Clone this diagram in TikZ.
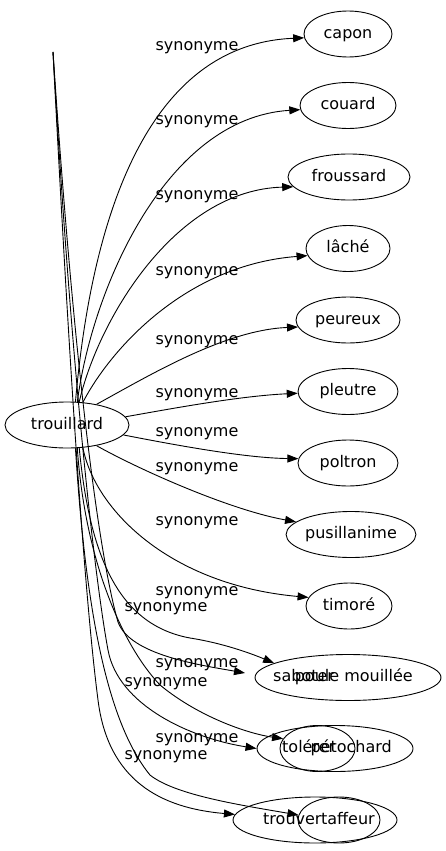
\documentclass[tikz,border=0pt]{standalone}
\usepackage{fontspec}
\setmainfont{DejaVu Sans}
\usetikzlibrary{shapes.geometric,arrows.meta}
\begin{document}
\begin{tikzpicture}[x=1pt,y=-1pt,
  every node/.style={font=\fontsize{16}{19}\selectfont},
  ell/.style={draw, ellipse, inner sep=0pt, minimum height=46pt, line width=0.9pt, text height=12pt, text depth=3.5pt},
  word/.style={inner sep=0pt},
  lbl/.style={inner sep=0pt, anchor=base},
  conn/.style={line width=0.9pt, -{Triangle[length=11pt,width=8pt]}}]
\useasboundingbox (0,0) rectangle (446,851);
% nodes
\node[ell, minimum width=124pt] (t) at (67,425) {trouillard};
\node[ell, minimum width=88pt] (capon) at (348,34) {capon};
\node[ell, minimum width=96pt] (couard) at (348,105.5) {couard};
\node[ell, minimum width=122pt] (frou) at (349,177) {froussard};
\node[ell, minimum width=84pt] (lache) at (348,248.5) {lâché};
\node[ell, minimum width=104pt] (peur) at (348,320) {peureux};
\node[ell, minimum width=100pt] (pleu) at (348,391.5) {pleutre};
\node[ell, minimum width=100pt] (polt) at (348,463) {poltron};
\node[ell, minimum width=120pt] (pus) at (351,534.5) {pusillanime};
\node[ell, minimum width=86pt] (tim) at (349,606) {timoré};
% overlapping rows
\node[ell, minimum width=186pt] (r1) at (348,677.5) {};
\node[word, anchor=base west] (r1a) at (273,681.8) {saboter};
\node[word, anchor=base east] (r1b) at (413,681.8) {poule mouillée};
\node[ell, minimum width=156pt] (r2) at (335,748.5) {};
\node[ell, minimum width=75pt] (r2s) at (317.5,748.5) {};
\node[word, anchor=base west] (r2a) at (282,752.8) {tolérer};
\node[word, anchor=base east] (r2b) at (392,752.8) {pétochard};
\node[ell, minimum width=164pt] (r3) at (315,820) {};
\node[ell, minimum width=82pt] (r3s) at (339,820) {};
\node[word, anchor=base west] (r3a) at (263,824.3) {trouver};
\node[word, anchor=base east] (r3b) at (375,824.3) {taffeur};
\coordinate (top) at (53,52);
\coordinate (b1end) at (245,673);
% edges from trouillard
\draw[conn] (t.70) .. controls (88,260) and (130,45) .. (capon.185);
\draw[conn] (t.66) .. controls (92,290) and (165,118) .. (couard.185);
\draw[conn] (t.62) .. controls (98,320) and (175,190) .. (frou.190);
\draw[conn] (t.55) .. controls (110,350) and (185,265) .. (lache.190);
\draw[conn] (t.35) .. controls (150,375) and (225,330) .. (peur.188);
\draw[conn] (t.8) .. controls (175,408) and (240,396) .. (pleu.182);
\draw[conn] (t.-10) .. controls (175,445) and (245,458) .. (polt.175);
\draw[conn] (t.-35) .. controls (140,470) and (230,510) .. (pus.167);
\draw[conn] (t.-55) .. controls (95,510) and (170,585) .. (tim.168);
\draw[conn] (t.-62) .. controls (90,560) and (120,625) .. (190,638) .. controls (222,643) and (250,653) .. (r1.169);
\draw[conn] (t.-66) .. controls (85,560) and (122,645) .. (160,685) .. controls (200,718) and (250,734) .. (r2s.164);
\draw[conn] (t.-70) .. controls (85,600) and (105,720) .. (150,775) .. controls (175,795) and (240,805) .. (r3s.173);
% edges from the top point
\draw[conn] (top) .. controls (75,380) and (100,560) .. (118,622) .. controls (130,655) and (200,665) .. (b1end);
\draw[conn] (top) .. controls (72,380) and (95,580) .. (108,650) .. controls (118,705) and (190,738) .. (r2.180);
\draw[conn] (top) .. controls (70,380) and (85,600) .. (98,700) .. controls (108,780) and (160,808) .. (r3.176);
% labels
\node[lbl] (l1) at (197,50.5) {synonyme};
\node[lbl] (l2) at (197,124.5) {synonyme};
\node[lbl] (l3) at (197,199.5) {synonyme};
\node[lbl] (l4) at (197,275.5) {synonyme};
\node[lbl] (l5) at (197,344.5) {synonyme};
\node[lbl] (l6) at (197,397.5) {synonyme};
\node[lbl] (l7) at (197,436.5) {synonyme};
\node[lbl] (l8) at (197,471.5) {synonyme};
\node[lbl] (l9) at (197,525.5) {synonyme};
\node[lbl] (l10) at (197,595.5) {synonyme};
\node[lbl] (l11) at (166,611.5) {synonyme};
\node[lbl] (l12) at (197,667.5) {synonyme};
\node[lbl] (l13) at (166,686.5) {synonyme};
\node[lbl] (l14) at (197,742.5) {synonyme};
\node[lbl] (l15) at (166,759.5) {synonyme};
\end{tikzpicture}
\end{document}
